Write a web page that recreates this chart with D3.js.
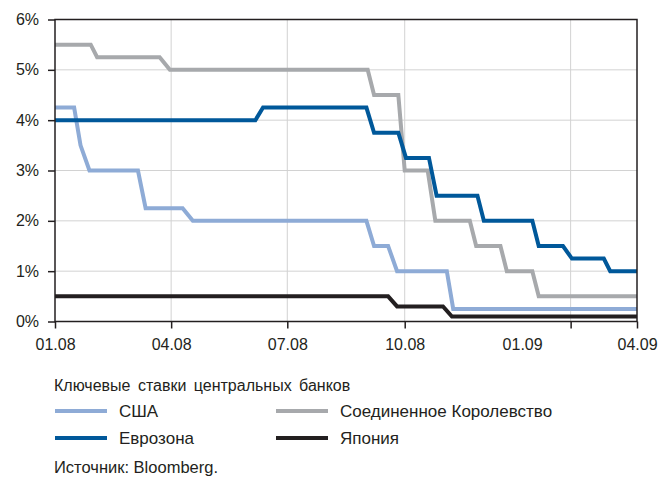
<!DOCTYPE html>
<html>
<head>
<meta charset="utf-8">
<script src="https://cdn.jsdelivr.net/npm/d3@7/dist/d3.min.js"></script>
<style>
  html, body { margin: 0; padding: 0; background: #fff; }
  svg { display: block; }
  text { font-family: "Liberation Sans", Arial, sans-serif; fill: #231f20; }
</style>
</head>
<body>
<svg id="chart" width="671" height="482"></svg>
<script>
// Policy rates of central banks, % (date of each corner of the step line)
const usa = [
  ["2008-01-01", 4.25], ["2008-01-16", 4.25], ["2008-01-21", 3.5], ["2008-01-28", 3.0],
  ["2008-03-06", 3.0], ["2008-03-12", 2.25], ["2008-04-10", 2.25], ["2008-04-18", 2.0],
  ["2008-09-01", 2.0], ["2008-09-07", 1.5], ["2008-09-18", 1.5], ["2008-09-25", 1.0],
  ["2008-11-03", 1.0], ["2008-11-08", 0.25], ["2009-04-01", 0.25]
];
const eurozone = [
  ["2008-01-01", 4.0], ["2008-06-06", 4.0], ["2008-06-12", 4.25], ["2008-09-01", 4.25],
  ["2008-09-07", 3.75], ["2008-09-26", 3.75], ["2008-10-02", 3.25], ["2008-10-20", 3.25],
  ["2008-10-26", 2.5], ["2008-11-27", 2.5], ["2008-12-02", 2.0], ["2009-01-09", 2.0],
  ["2009-01-14", 1.5], ["2009-02-02", 1.5], ["2009-02-09", 1.25], ["2009-03-06", 1.25],
  ["2009-03-11", 1.0], ["2009-04-01", 1.0]
];
const uk = [
  ["2008-01-01", 5.5], ["2008-01-29", 5.5], ["2008-02-03", 5.25], ["2008-03-23", 5.25],
  ["2008-03-31", 5.0], ["2008-09-02", 5.0], ["2008-09-07", 4.5], ["2008-09-26", 4.5],
  ["2008-10-01", 3.0], ["2008-10-19", 3.0], ["2008-10-25", 2.0], ["2008-11-21", 2.0],
  ["2008-11-26", 1.5], ["2008-12-15", 1.5], ["2008-12-20", 1.0], ["2009-01-09", 1.0],
  ["2009-01-14", 0.5], ["2009-04-01", 0.5]
];
const japan = [
  ["2008-01-01", 0.5], ["2008-09-18", 0.5], ["2008-09-25", 0.3], ["2008-10-31", 0.3],
  ["2008-11-07", 0.1], ["2009-04-01", 0.1]
];

const seriesNames = ["США", "Еврозона", "Соединенное Королевство", "Япония"];
const xLabelDates = ["2008-01-01", "2008-04-01", "2008-07-01", "2008-10-01", "2009-01-01", "2009-04-01"];
const xGridDates = ["2008-01-01", "2008-04-01", "2008-07-01", "2008-10-01", "2009-02-08", "2009-04-01"];
const yTicks = [0, 1, 2, 3, 4, 5, 6];
const legendTitle = "Ключевые ставки центральных банков";
const sourceNote = "Источник: Bloomberg.";

const parse = d3.timeParse("%Y-%m-%d");
const colors = {
  "США": "#8eabd6",
  "Еврозона": "#00589a",
  "Соединенное Королевство": "#a7a9ac",
  "Япония": "#231f20"
};
const dataBy = {
  "США": usa,
  "Еврозона": eurozone,
  "Соединенное Королевство": uk,
  "Япония": japan
};

const svg = d3.select("#chart");
const m = { left: 55, top: 19.5, right: 34, bottom: 160.5 };
const W = 671, H = 482;
const iw = W - m.left - m.right, ih = H - m.top - m.bottom;

const x = d3.scaleTime()
  .domain([parse("2008-01-01"), parse("2009-04-01")])
  .range([0, iw]);
const y = d3.scaleLinear().domain([0, 6]).range([ih, 0]);

const g = svg.append("g").attr("transform", `translate(${m.left},${m.top})`);

// grid
g.append("g").selectAll("line.h")
  .data(yTicks.slice(1, -1)).join("line")
  .attr("x1", 0).attr("x2", iw)
  .attr("y1", d => y(d)).attr("y2", d => y(d))
  .attr("stroke", "#d2d2d2").attr("stroke-width", 1);
g.append("g").selectAll("line.v")
  .data(xGridDates.slice(1, -1).map(parse)).join("line")
  .attr("x1", d => x(d)).attr("x2", d => x(d))
  .attr("y1", 0).attr("y2", ih)
  .attr("stroke", "#d2d2d2").attr("stroke-width", 1);

// series
const line = d3.line().x(d => x(parse(d[0]))).y(d => y(d[1]));
const drawOrder = ["Соединенное Королевство", "США", "Еврозона", "Япония"];
g.append("g").selectAll("path")
  .data(drawOrder).join("path")
  .attr("d", k => line(dataBy[k]))
  .attr("fill", "none")
  .attr("stroke", k => colors[k])
  .attr("stroke-width", 4)
  .attr("stroke-linejoin", "miter");

// frame
g.append("rect").attr("x", 0).attr("y", 0).attr("width", iw).attr("height", ih)
  .attr("fill", "none").attr("stroke", "#231f20").attr("stroke-width", 1.5);

// y axis
const yAxis = g.append("g")
  .call(d3.axisLeft(y).tickValues(yTicks).tickSize(7).tickPadding(9).tickFormat(d => d + "%"));
yAxis.select(".domain").remove();
yAxis.selectAll("line").attr("stroke", "#231f20").attr("stroke-width", 1.5);
yAxis.selectAll("text").attr("font-size", 16).style("font-family", "Liberation Sans, Arial, sans-serif").attr("fill", "#231f20");

// x axis ticks
const xTickAxis = g.append("g").attr("transform", `translate(0,${ih})`)
  .call(d3.axisBottom(x).tickValues(xGridDates.map(parse)).tickSize(7).tickFormat(""));
xTickAxis.select(".domain").remove();
xTickAxis.selectAll("line").attr("stroke", "#231f20").attr("stroke-width", 1.5);

// x axis labels
const fmt = d3.timeFormat("%m.%y");
const xLabelAxis = g.append("g").attr("transform", `translate(0,${ih})`)
  .call(d3.axisBottom(x).tickValues(xLabelDates.map(parse)).tickSize(0).tickPadding(17).tickFormat(fmt));
xLabelAxis.select(".domain").remove();
xLabelAxis.selectAll("text").attr("font-size", 16).style("font-family", "Liberation Sans, Arial, sans-serif").attr("fill", "#231f20");

// legend
const lg = svg.append("g");
lg.append("text").attr("x", 54).attr("y", 391).attr("font-size", 16)
  .attr("word-spacing", 3).text(legendTitle);
const legendPos = [
  { k: "США", x: 55, y: 411 },
  { k: "Соединенное Королевство", x: 276, y: 411 },
  { k: "Еврозона", x: 55, y: 438 },
  { k: "Япония", x: 276, y: 438 }
];
legendPos.forEach(p => {
  lg.append("line").attr("x1", p.x).attr("x2", p.x + 52)
    .attr("y1", p.y).attr("y2", p.y)
    .attr("stroke", colors[p.k]).attr("stroke-width", 4);
  lg.append("text").attr("x", p.x + 64).attr("y", p.y + 6).attr("font-size", 17).text(p.k);
});
lg.append("text").attr("x", 54).attr("y", 473).attr("font-size", 16.5).text(sourceNote);
</script>
</body>
</html>
